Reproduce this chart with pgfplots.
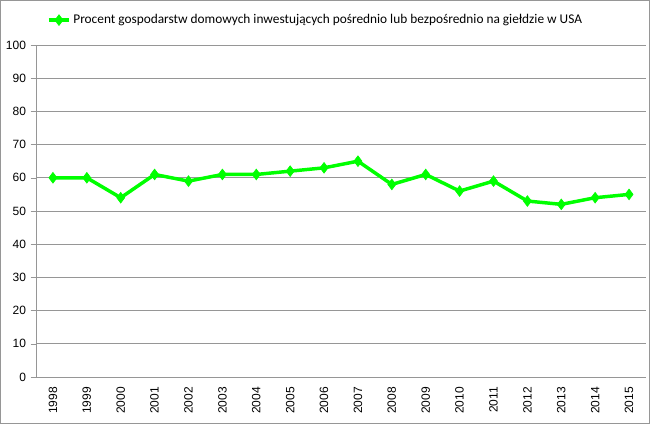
\documentclass[border=0pt]{standalone}
\usepackage{fontspec}
\setmainfont{Liberation Sans}
\newfontfamily\legendfont{Carlito}
\usepackage{pgfplots}
\pgfplotsset{compat=1.18}
\definecolor{linegreen}{RGB}{0,255,0}
\definecolor{gridgray}{RGB}{150,150,150}

\begin{document}
\begin{tikzpicture}
\useasboundingbox (0,0) rectangle (487.5pt,318pt);
\draw[gridgray, line width=0.8pt] (0.4pt,0.4pt) rectangle (487.1pt,317.6pt);
\begin{axis}[at={(27pt,35.25pt)}, anchor=south west, scale only axis,
  width=457.5pt, height=249pt,
  xmin=-0.5, xmax=17.5, ymin=0, ymax=100,
  xtick={0,...,17},
  xticklabels={1998,1999,2000,2001,2002,2003,2004,2005,2006,2007,2008,2009,2010,2011,2012,2013,2014,2015},
  x tick label style={rotate=90, anchor=east},
  xtick style={draw=none},
  minor xtick={-0.5,0.5,...,17.5},
  ytick={0,10,...,100},
  tick align=outside, major tick length=4pt, minor tick length=4pt,
  tick pos=left,
  axis x line*=bottom, axis y line*=left,
  axis line style={gridgray, -},
  every tick/.style={gridgray},
  ymajorgrids, grid style={gridgray, line width=0.6pt},
  ticklabel style={font=\fontsize{9}{10}\selectfont},
  /pgf/number format/assume math mode=true,
  legend style={at={(0.018,1.075)}, anchor=west, draw=none, fill=none,
    font=\legendfont\fontsize{10}{12}\selectfont, inner sep=0pt},
  legend image code/.code={\draw[#1] (0pt,0pt) -- (15pt,0pt); \draw[#1, mark repeat=2, mark phase=2] plot coordinates {(0pt,0pt) (7.5pt,0pt) (15pt,0pt)};},
]
\addplot[color=linegreen, line width=2.6pt, mark=diamond*, mark size=4pt, mark options={line width=0.5pt, fill=linegreen}]
coordinates {(0,60) (1,60) (2,54) (3,61) (4,59) (5,61) (6,61) (7,62) (8,63) (9,65) (10,58) (11,61) (12,56) (13,59) (14,53) (15,52) (16,54) (17,55)};
\addlegendentry{Procent gospodarstw domowych inwestujących pośrednio lub bezpośrednio na giełdzie w USA}
\end{axis}
\end{tikzpicture}
\end{document}
